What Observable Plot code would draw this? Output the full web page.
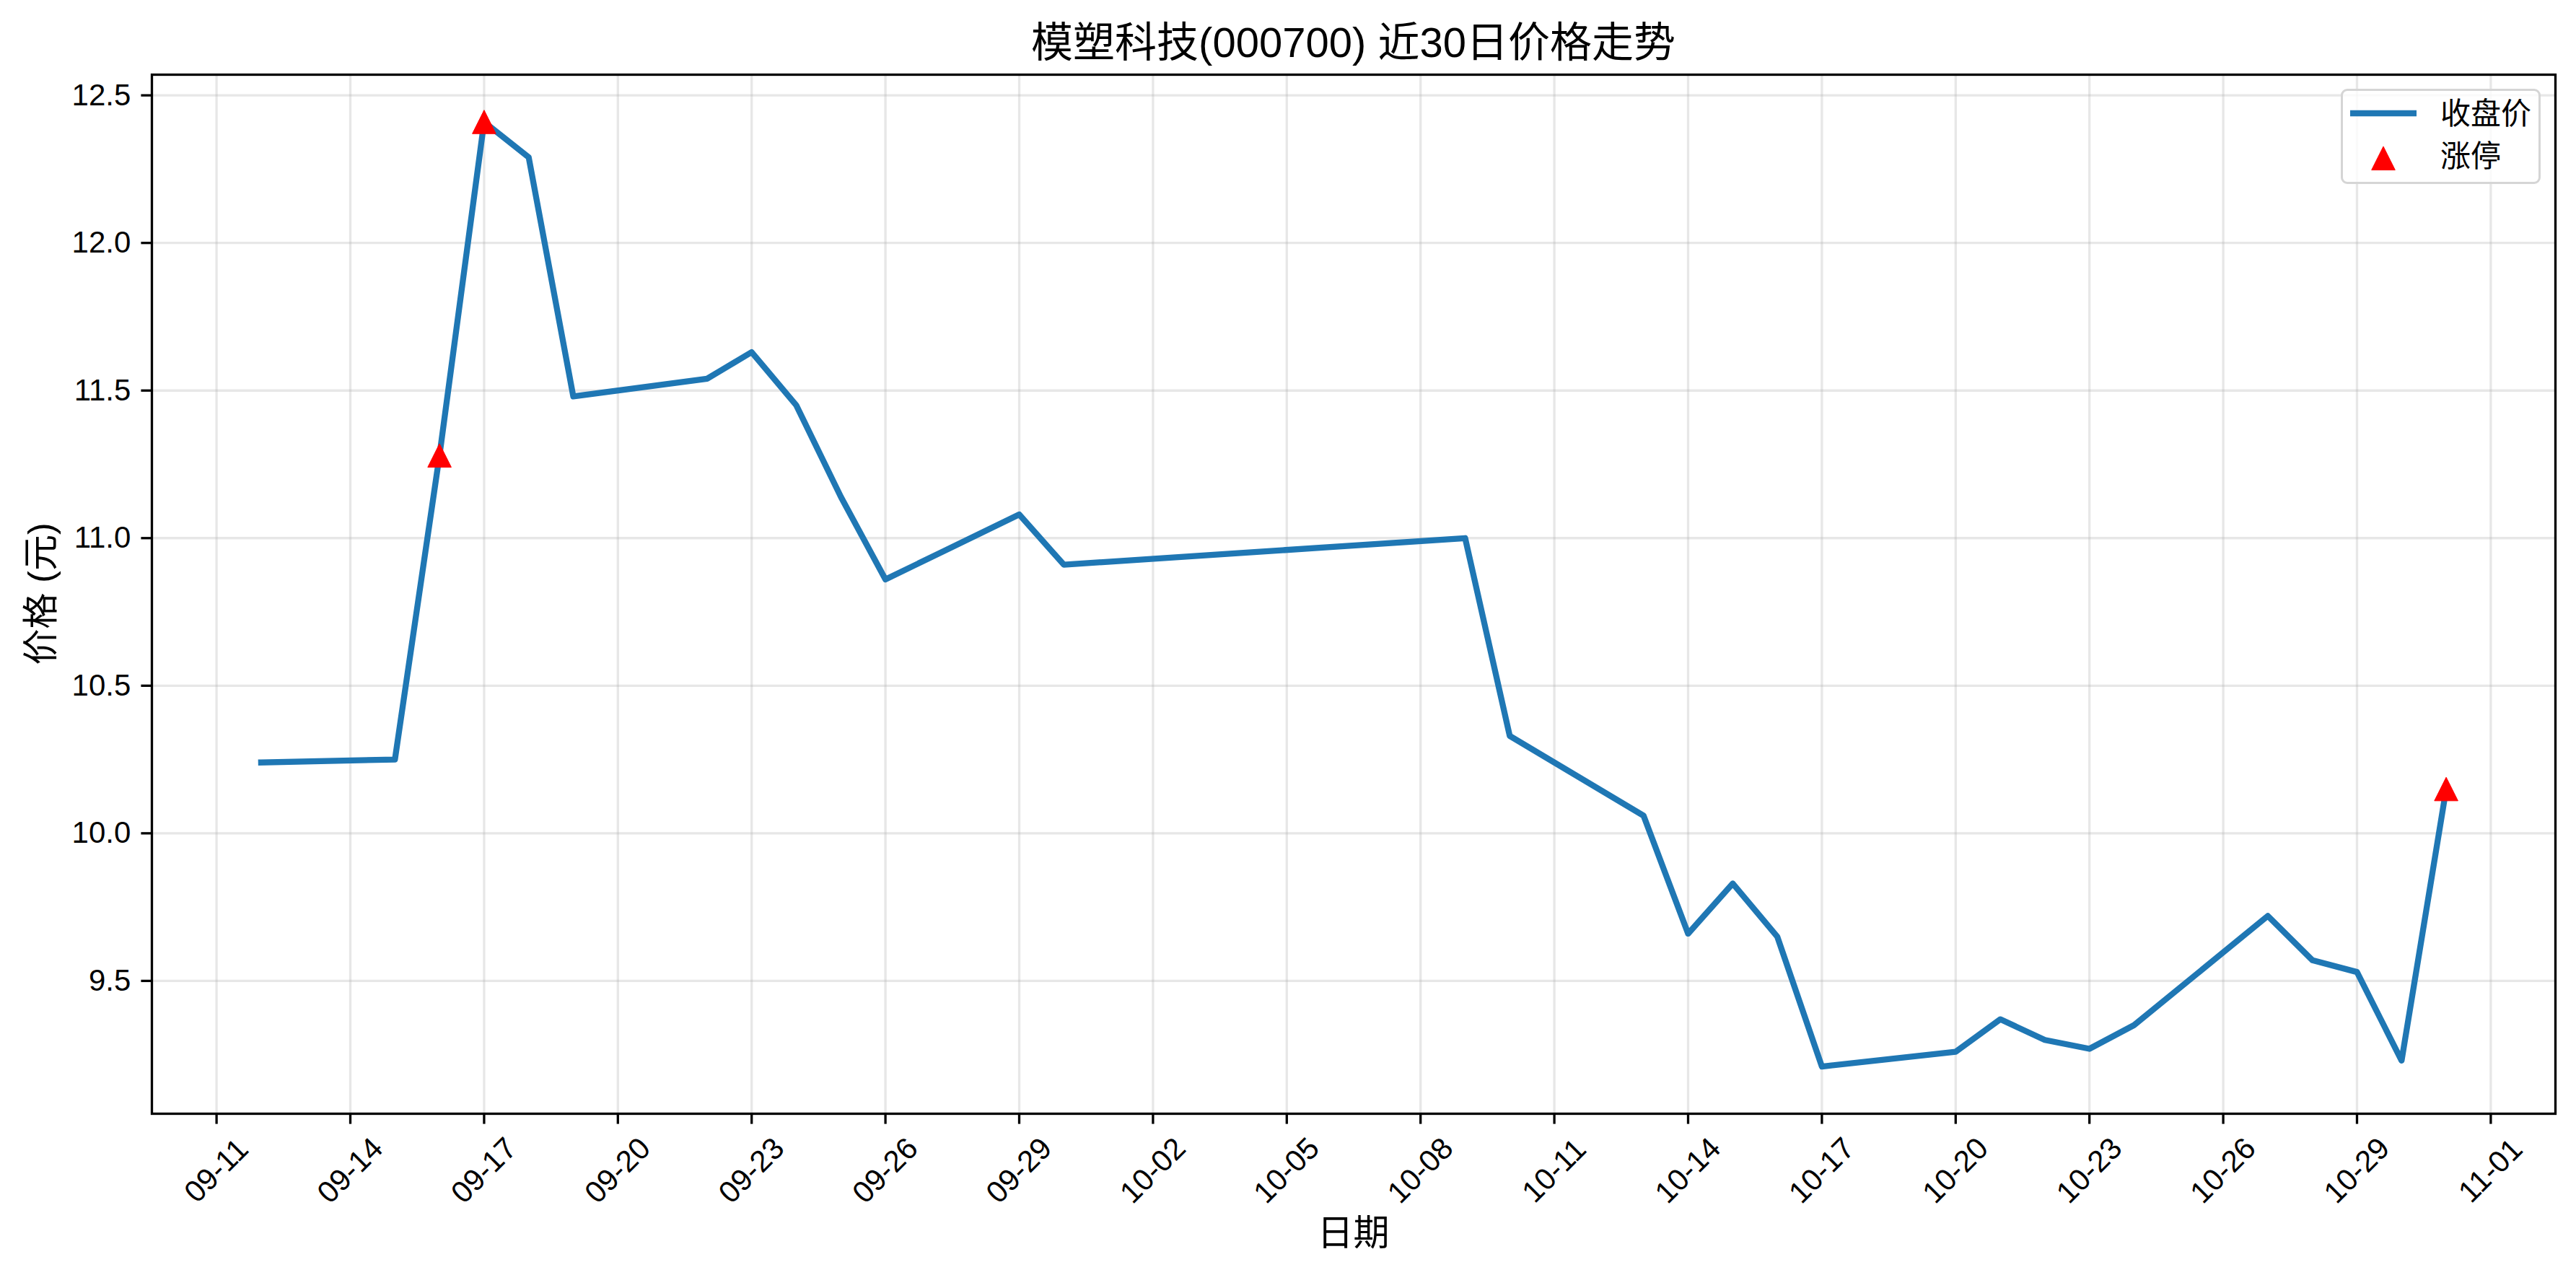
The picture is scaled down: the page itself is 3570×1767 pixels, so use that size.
<!DOCTYPE html>
<html>
<head>
<meta charset="utf-8">
<script src="https://cdn.jsdelivr.net/npm/d3@7"></script>
<script src="https://cdn.jsdelivr.net/npm/@observablehq/plot@0.6"></script>
<style>
  html, body { margin: 0; padding: 0; background: #ffffff; }
  #wrap { position: relative; width: 3570px; height: 1767px; overflow: hidden; background: #ffffff;
          font-family: "Liberation Sans", Arial, "Noto Sans CJK SC", sans-serif; color: #000; }
  #chart { position: absolute; left: 0; top: 0; }
  .abs { position: absolute; white-space: nowrap; }
  #title { left: 210px; width: 3331px; top: 30px; text-align: center; font-size: 58px; line-height: 58px; }
  #xlabel { left: 210px; width: 3331px; top: 1684px; text-align: center; font-size: 50px; line-height: 50px; }
  #ylabel { left: 57px; top: 823px; font-size: 50px; line-height: 50px; transform: translate(-50%, -50%) rotate(-90deg); }
  #legend { left: 3244px; top: 123px; width: 271px; height: 126px; border: 3px solid #d5d5d5; border-radius: 9px;
            background: rgba(255,255,255,0.8); }
  .legtext { position: absolute; font-size: 42px; line-height: 42px; }
</style>
</head>
<body>
<div id="wrap">
  <div id="chart"></div>
  <div id="title" class="abs">模塑科技(000700) 近30日价格走势</div>
  <div id="xlabel" class="abs">日期</div>
  <div id="ylabel" class="abs">价格 (元)</div>
  <div id="legend" class="abs">
    <svg width="271" height="126" style="position:absolute;left:0;top:0;overflow:visible">
      <line x1="10" y1="31" x2="102" y2="31" stroke="#1f77b4" stroke-width="8.3"></line>
      <path d="M56,77 L72.3,109.6 L39.7,109.6 Z" fill="#ff0000" stroke="#ff0000" stroke-width="1"></path>
    </svg>
    <div class="legtext" style="left:135px;top:11px">收盘价</div>
    <div class="legtext" style="left:135px;top:70px">涨停</div>
  </div>
</div>
<script>
// ---- data ----
const dates = [
  "2025-09-12","2025-09-15","2025-09-16","2025-09-17","2025-09-18","2025-09-19",
  "2025-09-22","2025-09-23","2025-09-24","2025-09-25","2025-09-26","2025-09-29",
  "2025-09-30","2025-10-09","2025-10-10","2025-10-13","2025-10-14","2025-10-15",
  "2025-10-16","2025-10-17","2025-10-20","2025-10-21","2025-10-22","2025-10-23",
  "2025-10-24","2025-10-27","2025-10-28","2025-10-29","2025-10-30","2025-10-31"
];
const closes = [
  10.24, 10.25, 11.28, 12.41, 12.29, 11.48,
  11.54, 11.63, 11.45, 11.14, 10.86, 11.08,
  10.91, 11.00, 10.33, 10.06, 9.66, 9.83,
  9.65, 9.21, 9.26, 9.37, 9.30, 9.27,
  9.35, 9.72, 9.57, 9.53, 9.23, 10.15
];
const limitUpDates = ["2025-09-16", "2025-09-17", "2025-10-31"];
const xTickLabels = ["09-11","09-14","09-17","09-20","09-23","09-26","09-29","10-02","10-05",
                     "10-08","10-11","10-14","10-17","10-20","10-23","10-26","10-29","11-01"];
const yTicks = [9.5, 10.0, 10.5, 11.0, 11.5, 12.0, 12.5];
const tickYear = "2025";

// ---- build ----
const rows = dates.map((d, i) => ({date: new Date(d + "T00:00:00Z"), close: closes[i]}));
const limitRows = rows.filter(r => limitUpDates.includes(r.date.toISOString().slice(0, 10)));
const tickDates = xTickLabels.map(l => new Date(tickYear + "-" + l + "T00:00:00Z"));

const tMin = d3.min(rows, r => +r.date), tMax = d3.max(rows, r => +r.date);
const tPad = 0.05 * (tMax - tMin);
const vMin = d3.min(closes), vMax = d3.max(closes);
const vPad = 0.05 * (vMax - vMin);

const triangle = {
  draw(ctx, size) {
    const r = Math.sqrt(size / Math.PI);
    ctx.moveTo(0, -r);
    ctx.lineTo(r, r);
    ctx.lineTo(-r, r);
    ctx.closePath();
  }
};

const gridStyle = {stroke: "#b0b0b0", strokeOpacity: 0.3, strokeWidth: 3.3};

const chart = Plot.plot({
  width: 3570,
  height: 1767,
  marginLeft: 210,
  marginRight: 29,
  marginTop: 103,
  marginBottom: 224,
  style: {fontFamily: '"Liberation Sans", Arial, "Noto Sans CJK SC", sans-serif', fontSize: "42px", color: "#000", background: "transparent"},
  x: {type: "utc", domain: [new Date(tMin - tPad), new Date(tMax + tPad)]},
  y: {domain: [vMin - vPad, vMax + vPad]},
  marks: [
    Plot.gridX(tickDates, gridStyle),
    Plot.gridY(yTicks, gridStyle),
    Plot.line(rows, {x: "date", y: "close", stroke: "#1f77b4", strokeWidth: 8.3, strokeLinecap: "square", strokeLinejoin: "round"}),
    Plot.dot(limitRows, {x: "date", y: "close", symbol: triangle, r: 16.3, fill: "#ff0000", stroke: "#ff0000", strokeWidth: 1}),
    Plot.frame({stroke: "#000", strokeWidth: 3.3}),
    Plot.axisY(yTicks, {tickSize: 14.6, tickPadding: 14.6, tickFormat: d3.format(".1f"), strokeWidth: 3.3, label: null, fontSize: 42}),
    Plot.axisX(tickDates, {tickSize: 14.6, tickFormat: () => "", strokeWidth: 3.3, label: null}),
    Plot.text(tickDates, {x: d => d, text: (d, i) => xTickLabels[i], frameAnchor: "bottom", dy: 79, rotate: -45,
                          textAnchor: "middle", lineAnchor: "middle", fontSize: 42, fill: "#000"})
  ]
});
document.getElementById("chart").appendChild(chart);
</script>
</body>
</html>
